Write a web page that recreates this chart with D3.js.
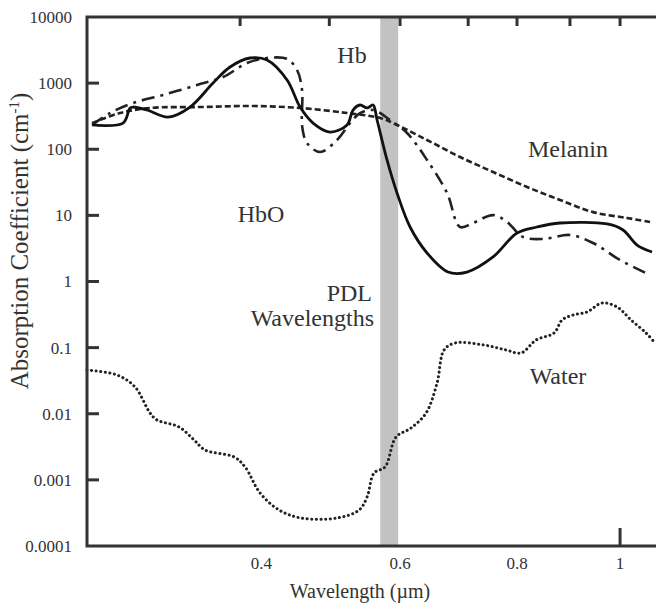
<!DOCTYPE html>
<html>
<head>
<meta charset="utf-8">
<script src="https://cdn.jsdelivr.net/npm/d3@7/dist/d3.min.js"></script>
<style>
body { margin: 0; background: #fff; }
text { font-family: "Liberation Serif", "Times New Roman", serif; fill: #333; }
</style>
</head>
<body>
<div id="chart"></div>
<script>
// tick values (wavelength in um, absorption in cm-1)
var xTicks = [0.4, 0.6, 0.8, 1];
var topTicks = [0.373, 0.493, 0.6, 0.713, 0.8, 0.9, 1];
var yTicks = [10000, 1000, 100, 10, 1, 0.1, 0.01, 0.001, 0.0001];
var yTickLabels = ["10000", "1000", "100", "10", "1", "0.1", "0.01", "0.001", "0.0001"];
var pdlBand = [0.569, 0.597];

// [wavelength, coefficient]
var hbo = [[0.2107,233],[0.2409,249],[0.248,421],[0.251,435],[0.2656,392],[0.2883,307],[0.313,435],
	[0.3399,1004],[0.3605,1754],[0.3855,2399],[0.4075,2238],[0.4341,1115],[0.4518,435],[0.4699,249],
	[0.494,182],[0.5188,233],[0.5277,392],[0.5382,467],[0.5488,421],[0.5579,467],[0.5641,277],
	[0.5795,68.8],[0.5952,21.8],[0.616,6.67],[0.6436,2.7],[0.6786,1.39],[0.711,1.39],[0.7567,2.35],
	[0.8001,5.41],[0.8371,6.67],[0.8808,7.67],[0.9735,7.41],[1.0061,6.01],[1.0351,3.56],[1.0666,2.79]];

var hb = [[0.2107,233],[0.228,353],[0.251,500],[0.2828,661],[0.3211,937],[0.352,1238],[0.3817,2015],
	[0.4075,2399],[0.4341,2317],[0.4477,1579],[0.4545,787],[0.4548,217],[0.4615,124],[0.4798,90.8],
	[0.5042,138],[0.5233,249],[0.5382,353],[0.5579,392],[0.5842,277],[0.6112,176],[0.6436,68.8],
	[0.6769,21.8],[0.699,6.67],[0.7215,7.67],[0.7567,10.1],[0.7819,7.94],[0.8111,4.71],[0.8484,4.39],
	[0.9002,5.05],[0.9454,3.82],[1.0,2.11],[1.0624,1.25]];

var melanin = [[0.2107,249],[0.2379,353],[0.2688,421],[0.3245,435],[0.3855,451],[0.4518,421],
	[0.5188,353],[0.5687,297],[0.5889,249],[0.6436,138],[0.699,76.3],[0.7567,45.3],[0.8185,26.9],
	[0.8808,17.1],[0.9454,11.2],[1.0144,9.13],[1.0624,7.94]];

var water = [[0.206,0.0459],[0.2349,0.0385],[0.2531,0.0254],[0.2688,0.01026],[0.2763,0.00804],
	[0.3005,0.00631],[0.3176,0.00401],[0.3304,0.00283],[0.3655,0.00222],[0.3792,0.00157],
	[0.3984,0.000633],[0.4233,0.00035],[0.4532,0.000265],[0.5042,0.000265],[0.5367,0.00035],
	[0.5488,0.000551],[0.5594,0.00127],[0.5764,0.00157],[0.5937,0.00445],[0.6176,0.00609],
	[0.642,0.01026],[0.6602,0.0292],[0.6719,0.0921],[0.6905,0.1175],[0.7407,0.1096],[0.78,0.0921],
	[0.8074,0.0829],[0.8353,0.1304],[0.8693,0.1664],[0.8847,0.2618],[0.906,0.3114],[0.9335,0.346],
	[0.9635,0.473],[0.9939,0.4115],[1.0227,0.2618],[1.054,0.1664],[1.073,0.1175]];

var width = 656, height = 608;
var margin = { top: 17, left: 87, right: 0, bottom: 62 };

var svg = d3.select("#chart").append("svg")
	.attr("width", width)
	.attr("height", height);

var x = d3.scaleSqrt()
	.domain([0.206, 1.075])
	.range([margin.left, width - margin.right]);

var y = d3.scaleLog()
	.domain([0.0001, 10000])
	.range([height - margin.bottom, margin.top]);

// PDL band
svg.append("rect")
	.attr("x", x(pdlBand[0]))
	.attr("y", y(10000))
	.attr("width", x(pdlBand[1]) - x(pdlBand[0]))
	.attr("height", y(0.0001) - y(10000))
	.attr("fill", "#c2c2c2");

var line = d3.line()
	.x(function(d) { return x(d[0]); })
	.y(function(d) { return y(d[1]); })
	.curve(d3.curveCatmullRom.alpha(0.5));

svg.append("path").datum(water)
	.attr("d", line)
	.attr("fill", "none")
	.attr("stroke", "#222")
	.attr("stroke-width", 3)
	.attr("stroke-linecap", "round")
	.attr("stroke-dasharray", "0.1 4.5");

svg.append("path").datum(melanin)
	.attr("d", line)
	.attr("fill", "none")
	.attr("stroke", "#222")
	.attr("stroke-width", 2.6)
	.attr("stroke-dasharray", "6 3");

svg.append("path").datum(hb)
	.attr("d", line)
	.attr("fill", "none")
	.attr("stroke", "#222")
	.attr("stroke-width", 2.6)
	.attr("stroke-dasharray", "13 6 3 6");

svg.append("path").datum(hbo)
	.attr("d", line)
	.attr("fill", "none")
	.attr("stroke", "#111")
	.attr("stroke-width", 2.8);

// frame: left, top, bottom
var axisColor = "#333";
svg.append("path")
	.attr("d", "M" + width + "," + y(10000) + "H" + x.range()[0] + "V" + y(0.0001) + "H" + width)
	.attr("fill", "none")
	.attr("stroke", axisColor)
	.attr("stroke-width", 3);

// left ticks + labels
svg.selectAll(".ytick")
	.data(yTicks.slice(1, -1))
	.enter().append("line")
	.attr("x1", x.range()[0]).attr("x2", x.range()[0] + 12)
	.attr("y1", function(d) { return y(d); })
	.attr("y2", function(d) { return y(d); })
	.attr("stroke", axisColor).attr("stroke-width", 3);

svg.selectAll(".ylab")
	.data(yTicks)
	.enter().append("text")
	.attr("x", 72)
	.attr("y", function(d) { return y(d); })
	.attr("dy", "0.35em")
	.attr("text-anchor", "end")
	.style("font-size", "17px")
	.text(function(d, i) { return yTickLabels[i]; });

// top ticks
svg.selectAll(".ttick")
	.data(topTicks)
	.enter().append("line")
	.attr("x1", function(d) { return x(d); })
	.attr("x2", function(d) { return x(d); })
	.attr("y1", y(10000)).attr("y2", y(10000) + 9)
	.attr("stroke", axisColor).attr("stroke-width", 3);

// bottom tick at 1 um
svg.append("line")
	.attr("x1", x(1)).attr("x2", x(1))
	.attr("y1", y(0.0001)).attr("y2", y(0.0001) - 18)
	.attr("stroke", axisColor).attr("stroke-width", 3);

svg.selectAll(".xlab")
	.data(xTicks)
	.enter().append("text")
	.attr("x", function(d) { return x(d); })
	.attr("y", 569)
	.attr("text-anchor", "middle")
	.style("font-size", "17px")
	.text(function(d) { return d; });

svg.append("text")
	.attr("x", 360)
	.attr("y", 598)
	.attr("text-anchor", "middle")
	.style("font-size", "20px")
	.text("Wavelength (\u00b5m)");

var ylab = svg.append("text")
	.attr("transform", "translate(28,241) rotate(-90)")
	.attr("text-anchor", "middle")
	.style("font-size", "25px");
ylab.append("tspan").text("Absorption Coefficient (cm");
ylab.append("tspan").attr("dy", -9).style("font-size", "15px").text("-1");
ylab.append("tspan").attr("dy", 9).text(")");

// curve labels
var notes = [
	{ t: "Hb", x: 352, y: 63, a: "middle" },
	{ t: "HbO", x: 261, y: 222, a: "middle" },
	{ t: "Melanin", x: 568, y: 157, a: "middle" },
	{ t: "PDL", x: 372, y: 301, a: "end" },
	{ t: "Wavelengths", x: 374, y: 326, a: "end" },
	{ t: "Water", x: 558, y: 384, a: "middle" }
];
svg.selectAll(".note")
	.data(notes)
	.enter().append("text")
	.attr("x", function(d) { return d.x; })
	.attr("y", function(d) { return d.y; })
	.attr("text-anchor", function(d) { return d.a; })
	.style("font-size", "24px")
	.text(function(d) { return d.t; });
</script>
</body>
</html>
